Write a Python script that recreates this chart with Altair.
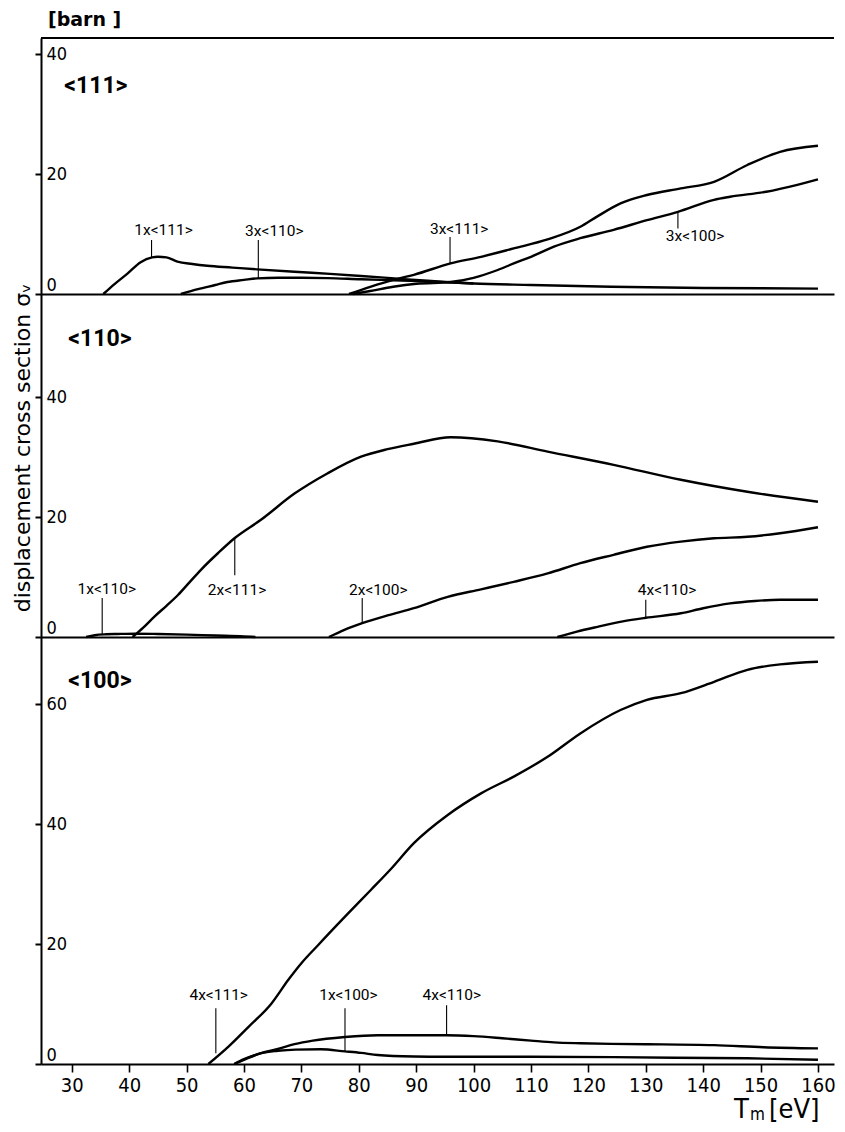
import altair as alt
import pandas as pd

# ---------------- data ----------------
# Panel <111>
p1_1x111_x = [35.5, 37.5, 39.7, 42.0, 44.0, 45.0, 46.5, 48.4, 51.0, 53.6, 58.0, 62.3, 68.8, 75.0, 80.4, 86.2, 92.0, 100.0, 110.0, 124.0, 140.0, 160.0]
p1_1x111_y = [0.0, 1.7, 3.4, 5.3, 6.1, 6.2, 6.1, 5.4, 5.0, 4.7, 4.4, 4.1, 3.7, 3.35, 3.0, 2.6, 2.2, 1.75, 1.5, 1.2, 1.0, 0.9]
p1_3x110_x = [49.0, 52.0, 55.0, 57.1, 60.0, 62.3, 66.0, 70.0, 74.6, 80.4, 86.0, 92.0, 100.0]
p1_3x110_y = [0.0, 0.8, 1.5, 2.0, 2.35, 2.6, 2.7, 2.7, 2.65, 2.45, 2.3, 2.1, 1.75]
p1_3x111_x = [78.3, 82.0, 86.2, 89.6, 96.0, 101.3, 107.0, 112.9, 118.6, 121.5, 125.6, 130.2, 136.1, 141.9, 147.7, 153.4, 160.0]
p1_3x111_y = [0.0, 1.2, 2.4, 3.2, 5.1, 6.2, 7.6, 9.1, 11.2, 12.9, 15.1, 16.5, 17.6, 18.7, 21.5, 23.7, 24.7]
p1_3x100_x = [79.0, 82.0, 86.0, 90.0, 96.0, 100.0, 104.2, 107.0, 110.0, 114.0, 118.6, 124.4, 130.2, 135.6, 141.9, 144.7, 151.0, 156.4, 160.0]
p1_3x100_y = [0.0, 0.5, 1.2, 1.7, 2.0, 2.7, 4.0, 5.1, 6.2, 7.9, 9.3, 10.7, 12.3, 13.7, 15.7, 16.2, 17.05, 18.2, 19.1]

# Panel <110>
p2_1x110_x = [32.5, 34.0, 36.0, 38.0, 41.0, 45.0, 50.0, 55.0, 60.0, 62.0]
p2_1x110_y = [0.0, 0.3, 0.45, 0.5, 0.55, 0.5, 0.4, 0.25, 0.1, 0.0]
p2_2x111_x = [40.6, 42.5, 44.4, 46.5, 48.5, 50.5, 52.5, 55.5, 58.4, 62.9, 68.8, 74.6, 80.4, 85.0, 89.6, 96.0, 104.2, 112.9, 124.4, 136.1, 147.7, 160.0]
p2_2x111_y = [0.0, 1.6, 3.4, 5.2, 7.0, 9.1, 11.2, 14.0, 16.5, 19.5, 23.9, 27.3, 30.05, 31.3, 32.2, 33.3, 32.6, 30.9, 28.7, 26.2, 24.2, 22.55]
p2_2x100_x = [74.8, 77.5, 80.6, 85.0, 89.6, 95.5, 101.3, 107.0, 112.9, 118.6, 124.4, 130.2, 136.1, 141.9, 147.7, 153.4, 160.0]
p2_2x100_y = [0.0, 1.2, 2.3, 3.6, 4.8, 6.7, 7.95, 9.2, 10.6, 12.3, 13.7, 15.05, 15.9, 16.45, 16.7, 17.3, 18.3]
p2_4x110_x = [114.6, 118.0, 121.6, 126.0, 130.0, 136.1, 140.0, 144.7, 149.0, 153.4, 160.0]
p2_4x110_y = [0.0, 0.9, 1.7, 2.6, 3.2, 3.95, 4.8, 5.6, 6.0, 6.2, 6.2]

# Panel <100>
p3_4x111_x = [53.8, 57.3, 60.8, 64.8, 67.7, 70.0, 72.9, 77.6, 82.1, 85.6, 89.6, 95.5, 101.3, 107.0, 112.9, 118.6, 125.6, 130.2, 136.1, 141.9, 147.7, 153.4, 160.0]
p3_4x111_y = [0.0, 2.9, 6.2, 10.1, 14.0, 16.8, 19.8, 24.55, 29.0, 32.5, 36.8, 41.5, 45.1, 47.9, 51.2, 55.1, 59.0, 60.7, 61.8, 63.7, 65.7, 66.6, 67.05]
p3_4x110_x = [58.3, 60.0, 63.0, 65.9, 68.8, 72.0, 77.6, 83.3, 89.6, 95.3, 100.0, 105.0, 110.0, 114.0, 118.6, 124.0, 130.2, 141.9, 150.5, 160.0]
p3_4x110_y = [0.0, 0.8, 1.8, 2.5, 3.3, 3.9, 4.5, 4.8, 4.8, 4.8, 4.65, 4.3, 3.9, 3.6, 3.45, 3.35, 3.3, 3.15, 2.8, 2.6]
p3_1x100_x = [58.3, 60.0, 63.0, 65.9, 69.0, 73.4, 77.6, 80.4, 83.3, 89.6, 95.0, 101.3, 110.0, 124.4, 135.0, 147.7, 160.0]
p3_1x100_y = [0.0, 0.7, 1.8, 2.2, 2.4, 2.45, 2.1, 1.85, 1.5, 1.25, 1.2, 1.2, 1.2, 1.15, 1.05, 0.95, 0.7]

# curve labels: text, x [eV], y [barn]
p1_label_text = ["1x<111>", "3x<110>", "3x<111>", "3x<100>"]
p1_label_x = [46.0, 65.3, 97.5, 138.6]
p1_label_y = [10.6, 10.5, 10.8, 9.6]
p1_leader_x = [43.9, 62.5, 95.9, 135.6]
p1_leader_top = [9.0, 9.0, 9.5, 13.6]
p1_leader_bot = [6.1, 2.62, 5.1, 10.9]

p2_label_text = ["1x<110>", "2x<111>", "2x<100>", "4x<110>"]
p2_label_x = [36.1, 58.8, 83.4, 133.7]
p2_label_y = [8.0, 7.8, 7.8, 7.8]
p2_leader_x = [35.3, 58.4, 80.6, 130.0]
p2_leader_top = [6.5, 16.4, 6.5, 6.2]
p2_leader_bot = [0.45, 10.3, 2.3, 3.2]

p3_label_text = ["4x<111>", "1x<100>", "4x<110>"]
p3_label_x = [55.6, 78.2, 96.2]
p3_label_y = [11.5, 11.5, 11.5]
p3_leader_x = [55.1, 77.6, 95.3]
p3_leader_top = [9.3, 9.3, 9.8]
p3_leader_bot = [1.8, 2.15, 4.8]

panel_titles = ["<111>", "<110>", "<100>"]
panel_title_x = [28.7, 29.4, 29.4]
panel_title_y = [34.7, 49.7, 63.8]

x_ticks = [30, 40, 50, 60, 70, 80, 90, 100, 110, 120, 130, 140, 150, 160]
p1_yticks = [0, 20, 40]
p2_yticks = [0, 20, 40]
p3_yticks = [0, 20, 40, 60]

# ---------------- layout constants ----------------
X_MIN = 24.64
PX_PER_EV = 5.74
W = 793
X_MAX = X_MIN + W / PX_PER_EV
PX_PER_BARN = 6.0
H1, H2, H3 = 256, 343, 427

TICKFONT = "DejaVu Sans Condensed, Roboto, sans-serif"
LABFONT = "Roboto, DejaVu Sans Condensed, sans-serif"
WIDE = "DejaVu Sans, Liberation Sans, sans-serif"


def curves_df(pairs):
    rows = []
    for name, xs, ys in pairs:
        for i, (a, b) in enumerate(zip(xs, ys)):
            rows.append({"series": name, "x": a, "y": b, "order": i})
    return pd.DataFrame(rows)


def make_panel(curves, ltext, lx, ly, ldx, ldt, ldb, title_idx, height, yticks, bottom):
    ymax = height / PX_PER_BARN
    if bottom:
        xaxis = alt.Axis(values=x_ticks, tickSize=8, tickWidth=1.6, tickColor="black",
                         domainColor="black", domainWidth=2, labelFont=TICKFONT,
                         labelFontSize=20, labelColor="black", labelPadding=3,
                         labelFlush=False, grid=False, title=None)
    else:
        xaxis = alt.Axis(labels=False, ticks=False, domainColor="black", domainWidth=2,
                         grid=False, title=None)
    yaxis = alt.Axis(values=yticks, tickSize=6, tickWidth=2, tickColor="black",
                     domainColor="black", domainWidth=2, labelAlign="left",
                     labelPadding=-11, labelFlush=True, labelFont=TICKFONT,
                     labelFontSize=18, labelColor="black", grid=False, title=None)
    xenc = alt.X("x:Q", scale=alt.Scale(domain=[X_MIN, X_MAX], nice=False, zero=False), axis=xaxis)
    yenc = alt.Y("y:Q", scale=alt.Scale(domain=[0, ymax], nice=False, zero=False), axis=yaxis)

    lines = alt.Chart(curves).mark_line(color="black", strokeWidth=2.4,
                                        interpolate="monotone").encode(
        x=xenc, y=yenc, detail="series:N", order="order:Q")

    lab_df = pd.DataFrame({"label": ltext, "x": lx, "y": ly})
    labels = alt.Chart(lab_df).mark_text(font=LABFONT, fontSize=15.5, color="black",
                                         align="center", baseline="middle").encode(
        x=xenc, y=yenc, text="label:N")

    lead_df = pd.DataFrame({"x": ldx, "y": ldt, "y2": ldb})
    leaders = alt.Chart(lead_df).mark_rule(color="black", strokeWidth=1.1).encode(
        x=xenc, y=yenc, y2="y2:Q")

    t_df = pd.DataFrame({"label": [panel_titles[title_idx]],
                         "x": [panel_title_x[title_idx]], "y": [panel_title_y[title_idx]]})
    title = alt.Chart(t_df).mark_text(font=LABFONT, fontSize=23, fontWeight="bold",
                                      color="black", align="left", baseline="middle").encode(
        x=xenc, y=yenc, text="label:N")

    return [lines, leaders, labels, title]


p1_layers = make_panel(
    curves_df([("1x<111>", p1_1x111_x, p1_1x111_y), ("3x<110>", p1_3x110_x, p1_3x110_y),
               ("3x<111>", p1_3x111_x, p1_3x111_y), ("3x<100>", p1_3x100_x, p1_3x100_y)]),
    p1_label_text, p1_label_x, p1_label_y, p1_leader_x, p1_leader_top, p1_leader_bot,
    0, H1, p1_yticks, False)
p2_layers = make_panel(
    curves_df([("1x<110>", p2_1x110_x, p2_1x110_y), ("2x<111>", p2_2x111_x, p2_2x111_y),
               ("2x<100>", p2_2x100_x, p2_2x100_y), ("4x<110>", p2_4x110_x, p2_4x110_y)]),
    p2_label_text, p2_label_x, p2_label_y, p2_leader_x, p2_leader_top, p2_leader_bot,
    1, H2, p2_yticks, False)
p3_layers = make_panel(
    curves_df([("4x<111>", p3_4x111_x, p3_4x111_y), ("4x<110>", p3_4x110_x, p3_4x110_y),
               ("1x<100>", p3_1x100_x, p3_1x100_y)]),
    p3_label_text, p3_label_x, p3_label_y, p3_leader_x, p3_leader_top, p3_leader_bot,
    2, H3, p3_yticks, True)

one = pd.DataFrame({"t": [""]})

# top frame line and unit label of panel 1
top_line = alt.Chart(one).mark_rule(color="black", strokeWidth=2).encode(
    x=alt.value(0), x2=alt.value(W), y=alt.value(0))
unit = alt.Chart(pd.DataFrame({"t": ["[barn ]"]})).mark_text(
    font=WIDE, fontSize=19, fontWeight="bold", color="black", align="left",
    baseline="middle").encode(x=alt.value(7), y=alt.value(-18), text="t:N")

# y-axis title in panel 2
ytitle = alt.Chart(pd.DataFrame({"t": ["displacement cross section σᵥ"]})).mark_text(
    font=WIDE, fontSize=22, color="black", angle=270, align="center",
    baseline="middle").encode(x=alt.value(-18), y=alt.value(154), text="t:N")

# x-axis title in panel 3
xt_T = alt.Chart(pd.DataFrame({"t": ["T"]})).mark_text(
    font=TICKFONT, fontSize=27, color="black", align="left", baseline="alphabetic").encode(
    x=alt.value(693), y=alt.value(481), text="t:N")
xt_m = alt.Chart(pd.DataFrame({"t": ["m"]})).mark_text(
    font=TICKFONT, fontSize=17, color="black", align="left", baseline="alphabetic").encode(
    x=alt.value(709), y=alt.value(483), text="t:N")
xt_eV = alt.Chart(pd.DataFrame({"t": ["[eV]"]})).mark_text(
    font=TICKFONT, fontSize=27, color="black", align="left", baseline="alphabetic").encode(
    x=alt.value(728), y=alt.value(481), text="t:N")

p1 = alt.layer(*p1_layers, top_line, unit).properties(width=W, height=H1)
p2 = alt.layer(*p2_layers, ytitle).properties(width=W, height=H2)
p3 = alt.layer(*p3_layers, xt_T, xt_m, xt_eV).properties(width=W, height=H3)

chart = alt.vconcat(p1, p2, p3, spacing=0, bounds="flush").properties(
    padding={"left": 3, "top": 3, "right": 0, "bottom": 0}
).configure(background="white").configure_view(stroke=None)

chart.save("out.html", embed_options={"renderer": "svg", "actions": False})
